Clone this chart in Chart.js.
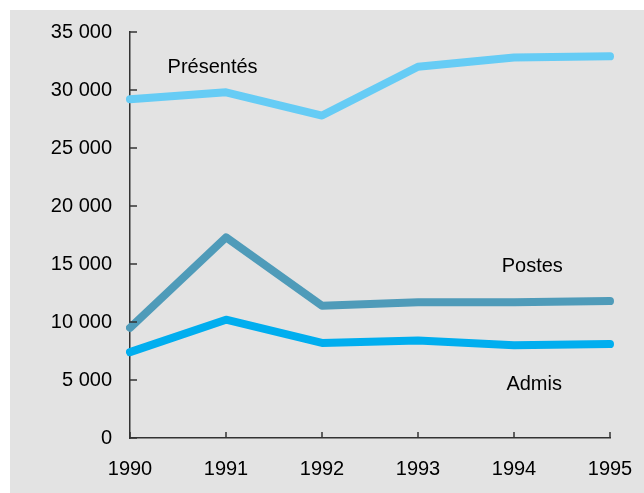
<!DOCTYPE html>
<html>
<head>
<meta charset="utf-8">
<script src="https://cdn.jsdelivr.net/npm/chart.js@4"></script>
<style>
  html, body { margin: 0; padding: 0; background: #ffffff; }
  #wrap {
    position: absolute; left: 10px; top: 10px; width: 634px; height: 483px;
    background: #e3e3e3;
  }
</style>
</head>
<body>
<div id="wrap"><canvas id="chart" width="634" height="483"></canvas></div>
<script>
const years = ['1990', '1991', '1992', '1993', '1994', '1995'];
const presentes = [29200, 29800, 27800, 32000, 32800, 32900];
const postes = [9500, 17300, 11400, 11700, 11700, 11800];
const admis = [7400, 10200, 8200, 8400, 8000, 8100];

// label anchors: [category index, value]
const seriesLabels = [
  { text: 'Présentés', x: 0.86, y: 31900 },
  { text: 'Postes', x: 4.19, y: 14800 },
  { text: 'Admis', x: 4.21, y: 4650 }
];

function fmt(v){
  return String(v).replace(/\B(?=(\d{3})+(?!\d))/g, ' ');
}

const FONT = "'Liberation Sans', Arial, sans-serif";

const insideTicks = {
  id: 'insideTicks',
  afterDatasetsDraw(chart){
    const ctx = chart.ctx, a = chart.chartArea;
    const xs = chart.scales.x, ys = chart.scales.y;
    ctx.save();
    ctx.strokeStyle = '#333';
    ctx.lineWidth = 1.5;
    ys.ticks.forEach(t => {
      const py = ys.getPixelForValue(t.value);
      ctx.beginPath(); ctx.moveTo(a.left, py); ctx.lineTo(a.left + 7, py); ctx.stroke();
    });
    xs.ticks.forEach((t, i) => {
      const px = xs.getPixelForValue(i);
      ctx.beginPath(); ctx.moveTo(px, a.bottom); ctx.lineTo(px, a.bottom - 6); ctx.stroke();
    });
    ctx.fillStyle = '#000';
    ctx.font = '20px ' + FONT;
    ctx.textAlign = 'center';
    ctx.textBaseline = 'middle';
    seriesLabels.forEach(l => {
      ctx.fillText(l.text, xs.getPixelForValue(l.x), ys.getPixelForValue(l.y));
    });
    ctx.restore();
  }
};

function lineSet(label, data, color){
  return {
    label: label,
    data: data,
    borderColor: color,
    backgroundColor: color,
    borderWidth: 8,
    pointRadius: 0,
    tension: 0,
    borderCapStyle: 'round',
    borderJoinStyle: 'round',
    fill: false
  };
}

new Chart(document.getElementById('chart'), {
  type: 'line',
  data: {
    labels: years,
    datasets: [
      lineSet('Présentés', presentes, '#66ccf5'),
      lineSet('Postes', postes, '#4f9bb9'),
      lineSet('Admis', admis, '#00aeef')
    ]
  },
  options: {
    responsive: false,
    animation: false,
    layout: { padding: { top: 22, right: 34, left: 0, bottom: 0 } },
    plugins: { legend: { display: false }, tooltip: { enabled: false } },
    scales: {
      x: {
        offset: false,
        grid: { display: false, drawTicks: false },
        border: { display: true, color: '#333', width: 1.5 },
        ticks: { color: '#000', font: { family: FONT, size: 20 }, padding: 19, maxRotation: 0 },
        afterFit: s => { s.height = 55; s.paddingLeft = 0; s.paddingRight = 0; }
      },
      y: {
        min: 0,
        max: 35000,
        grid: { display: false, drawTicks: false },
        border: { display: true, color: '#333', width: 1.5 },
        ticks: { stepSize: 5000, color: '#000', font: { family: FONT, size: 20 }, padding: 18,
          callback: v => fmt(v) },
        afterFit: s => { s.width = 120; s.paddingTop = 0; s.paddingBottom = 0; }
      }
    }
  },
  plugins: [insideTicks]
});
</script>
</body>
</html>
